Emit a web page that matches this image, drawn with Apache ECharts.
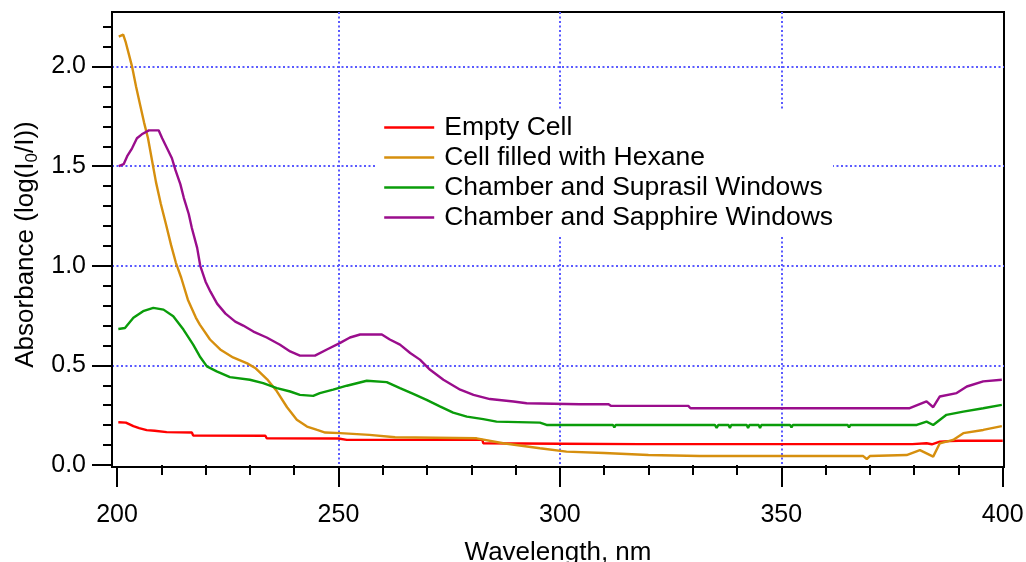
<!DOCTYPE html>
<html>
<head>
<meta charset="utf-8">
<title>Absorbance spectra</title>
<style>
  html, body { margin: 0; padding: 0; background: #fff; }
  #chart { width: 1026px; height: 562px; }
</style>
</head>
<body>
<div id="chart"></div>
<script src="https://cdn.jsdelivr.net/npm/echarts@6/dist/echarts.min.js"></script>
<script>
// axis ticks
var xMajorTicks = [200, 250, 300, 350, 400];
var xMinorTicks = [210, 220, 230, 240, 260, 270, 280, 290, 310, 320, 330, 340, 360, 370, 380, 390];
var xGridLines = [250, 300, 350];
var yMajorTicks = [0, 0.5, 1.0, 1.5, 2.0];
var yMinorTicks = [0.1, 0.2, 0.3, 0.4, 0.6, 0.7, 0.8, 0.9, 1.1, 1.2, 1.3, 1.4, 1.6, 1.7, 1.8, 1.9, 2.1, 2.2];
var yGridLines = [0.5, 1.0, 1.5, 2.0];

var seriesNames = ['Empty Cell', 'Cell filled with Hexane', 'Chamber and Suprasil Windows', 'Chamber and Sapphire Windows'];
var seriesColors = ['#ff0000', '#d68f0e', '#0a9c0a', '#9a0d8c'];

// Empty Cell
var emptyWl  = [200.3, 202.0, 202.3, 203.7, 205.0, 206.7, 208.5, 211.2, 216.9, 217.2, 233.5, 233.8, 250.0, 251.9, 282.5, 282.7,
                300.0, 318.0, 318.3, 318.6, 327.0, 327.3, 327.6, 335.0, 335.3, 335.6, 341.0, 341.3, 341.6, 352.0, 352.3, 352.6,
                362.0, 362.3, 362.6, 379.6, 382.8, 384.0, 385.8, 388.0, 390.0, 400.0];
var emptyAbs = [0.215, 0.213, 0.205, 0.195, 0.185, 0.175, 0.172, 0.165, 0.163, 0.148, 0.147, 0.134, 0.133, 0.126, 0.126, 0.109,
                0.107, 0.105, 0.098, 0.105, 0.105, 0.098, 0.105, 0.105, 0.112, 0.105, 0.105, 0.098, 0.105, 0.105, 0.112, 0.105,
                0.105, 0.112, 0.105, 0.105, 0.109, 0.104, 0.117, 0.12, 0.122, 0.122];

// Cell filled with Hexane
var hexaneWl  = [200.4, 201.4, 202.0, 202.7, 203.4, 204.3, 205.2, 206.1, 207.0, 207.9, 208.8, 209.9, 211.1, 212.2, 213.3, 214.5,
                 216.0, 217.8, 218.7, 221.0, 223.3, 226.2, 229.4, 231.2, 233.9, 236.1, 238.4, 240.6, 242.9, 245.2, 247.0, 250.4,
                 257.0, 262.8, 281.2, 287.2, 295.5, 301.5, 310.0, 320.0, 331.6, 350.0, 368.5, 369.3, 370.0, 378.3, 381.3, 384.3,
                 385.8, 388.8, 391.1, 395.6, 399.8];
var hexaneAbs = [2.15, 2.16, 2.12, 2.06, 2.00, 1.90, 1.81, 1.72, 1.64, 1.53, 1.42, 1.31, 1.205, 1.105, 1.015, 0.94,
                 0.83, 0.74, 0.705, 0.63, 0.58, 0.54, 0.51, 0.487, 0.43, 0.37, 0.29, 0.227, 0.193, 0.176, 0.163, 0.16,
                 0.151, 0.139, 0.134, 0.109, 0.084, 0.067, 0.06, 0.05, 0.045, 0.045, 0.045, 0.03, 0.045, 0.05, 0.075, 0.042,
                 0.109, 0.126, 0.16, 0.176, 0.195];

// Chamber and Suprasil Windows
var suprasilWl  = [200.3, 201.8, 203.7, 205.9, 208.2, 210.5, 212.7, 215.0, 217.2, 218.7, 220.3, 222.5, 225.5, 230.0, 233.0, 236.1,
                   239.1, 241.3, 244.3, 245.8, 248.8, 251.9, 256.4, 260.9, 263.9, 266.9, 269.9, 272.9, 275.9, 279.0, 282.7, 285.7,
                   295.5, 297.0, 312.0, 312.3, 312.6, 335.0, 335.4, 335.8, 338.1, 338.4, 338.7, 342.2, 342.5, 342.8, 344.9, 345.2,
                   345.5, 352.0, 352.3, 352.6, 365.0, 365.3, 365.6, 380.6, 382.8, 384.3, 387.3, 391.1, 395.6, 399.8];
var suprasilAbs = [0.683, 0.688, 0.739, 0.772, 0.789, 0.78, 0.747, 0.68, 0.604, 0.545, 0.495, 0.47, 0.441, 0.428, 0.411, 0.386,
                   0.369, 0.352, 0.347, 0.361, 0.378, 0.398, 0.423, 0.416, 0.386, 0.357, 0.327, 0.294, 0.263, 0.243, 0.23, 0.218,
                   0.213, 0.201, 0.201, 0.188, 0.201, 0.201, 0.186, 0.201, 0.201, 0.186, 0.201, 0.201, 0.186, 0.201, 0.201, 0.186,
                   0.201, 0.201, 0.188, 0.201, 0.201, 0.188, 0.201, 0.201, 0.218, 0.201, 0.252, 0.268, 0.285, 0.302];

// Chamber and Sapphire Windows
var sapphireWl  = [200.4, 201.5, 202.3, 203.4, 204.5, 205.6, 207.2, 209.4, 210.2, 211.3, 212.4, 213.2, 214.3, 215.1, 216.2, 216.9,
                   218.1, 218.8, 220.0, 221.1, 222.6, 224.5, 226.7, 228.5, 230.8, 233.8, 236.8, 239.1, 241.3, 244.7, 247.4, 250.4,
                   252.6, 254.9, 259.8, 261.6, 263.9, 266.2, 268.4, 270.7, 273.7, 277.5, 280.5, 284.2, 289.5, 292.5, 304.5, 311.0,
                   311.5, 329.0, 329.5, 379.0, 382.8, 384.3, 385.8, 389.6, 391.9, 395.6, 399.8];
var sapphireAbs = [1.50, 1.51, 1.55, 1.59, 1.64, 1.66, 1.68, 1.68, 1.64, 1.59, 1.54, 1.48, 1.41, 1.34, 1.26, 1.19,
                   1.09, 1.00, 0.92, 0.87, 0.81, 0.76, 0.72, 0.70, 0.67, 0.64, 0.604, 0.57, 0.549, 0.549, 0.58, 0.613,
                   0.64, 0.655, 0.655, 0.63, 0.604, 0.562, 0.529, 0.478, 0.428, 0.378, 0.352, 0.331, 0.319, 0.31, 0.305, 0.305,
                   0.297, 0.297, 0.285, 0.285, 0.319, 0.29, 0.344, 0.361, 0.394, 0.42, 0.428];

var wlLists = [emptyWl, hexaneWl, suprasilWl, sapphireWl];
var absLists = [emptyAbs, hexaneAbs, suprasilAbs, sapphireAbs];

var font = 'Liberation Sans, Arial, sans-serif';
var gridColor = '#5a5aff';

function zip(xs, ys) {
    var out = [];
    for (var i = 0; i < xs.length; i++) out.push([xs[i], ys[i]]);
    return out;
}

// frame is a bit wider than the 200..400 / 0..2 tick range
var xMin = 198.87, xMax = 400.29;
var yMin = -0.01, yMax = 2.274;

function xAxisBase() {
    return {
        type: 'value', min: xMin, max: xMax, position: 'bottom',
        axisLine: { show: false },
        axisTick: { show: false },
        axisLabel: { show: false },
        splitLine: { show: false }
    };
}
function yAxisBase() {
    return {
        type: 'value', min: yMin, max: yMax, position: 'left',
        axisLine: { show: false },
        axisTick: { show: false },
        axisLabel: { show: false },
        splitLine: { show: false }
    };
}

var xMajor = xAxisBase();
xMajor.axisLine = { show: true, onZero: false, lineStyle: { color: '#000', width: 2 } };
xMajor.axisTick = { show: true, inside: false, length: 20, customValues: xMajorTicks, lineStyle: { color: '#000', width: 2 } };
xMajor.axisLabel = { show: true, customValues: xMajorTicks, margin: 36, fontSize: 25, fontFamily: font, color: '#000' };
xMajor.name = 'Wavelength, nm';
xMajor.nameLocation = 'middle';
xMajor.nameGap = 73;
xMajor.nameTextStyle = { fontSize: 26, fontFamily: font, color: '#000' };

var xMinor = xAxisBase();
xMinor.axisTick = { show: true, inside: false, length: 10, customValues: xMinorTicks, lineStyle: { color: '#000', width: 2 } };

var xGrid = xAxisBase();
xGrid.axisTick = { show: false, customValues: xGridLines };
xGrid.splitLine = { show: true, lineStyle: { color: gridColor, width: 2, type: [2, 2.5] } };

var yMajor = yAxisBase();
yMajor.axisLine = { show: true, onZero: false, lineStyle: { color: '#000', width: 2 } };
yMajor.axisTick = { show: true, inside: false, length: 20, customValues: yMajorTicks, lineStyle: { color: '#000', width: 2 } };
yMajor.axisLabel = {
    show: true, customValues: yMajorTicks, margin: 26, fontSize: 25, fontFamily: font, color: '#000',
    formatter: function (v) { return v.toFixed(1); }
};
yMajor.name = '{t|Absorbance (log(I}{s|0}{t|/I))}';
yMajor.nameLocation = 'middle';
yMajor.nameGap = 69;
yMajor.nameTextStyle = {
    padding: [0, 10, 0, 0],
    rich: {
        t: { fontSize: 26, fontFamily: font, color: '#000', lineHeight: 30 },
        s: { fontSize: 17, fontFamily: font, color: '#000', lineHeight: 17, verticalAlign: 'bottom' }
    }
};

var yMinor = yAxisBase();
yMinor.axisTick = { show: true, inside: false, length: 9, customValues: yMinorTicks, lineStyle: { color: '#000', width: 2 } };

var yGrid = yAxisBase();
yGrid.axisTick = { show: false, customValues: yGridLines };
yGrid.splitLine = { show: true, lineStyle: { color: gridColor, width: 2, type: [2, 2.5] } };

var series = [];
for (var i = 0; i < seriesNames.length; i++) {
    series.push({
        name: seriesNames[i],
        type: 'line',
        xAxisIndex: 0,
        yAxisIndex: 0,
        symbol: 'none',
        color: seriesColors[i],
        lineStyle: { width: 2.4, color: seriesColors[i] },
        data: zip(wlLists[i], absLists[i])
    });
}

var chart = echarts.init(document.getElementById('chart'), null, { renderer: 'canvas' });
chart.setOption({
    animation: false,
    backgroundColor: '#fff',
    grid: {
        left: 112, top: 12, width: 892, height: 455,
        outerBoundsMode: 'none',
        containLabel: false,
        show: true, borderColor: '#000', borderWidth: 2, backgroundColor: 'transparent'
    },
    legend: {
        data: seriesNames,
        orient: 'vertical',
        left: 377,
        top: 110,
        padding: [4, 0, 5, 6],
        itemWidth: 50,
        itemHeight: 14,
        itemGap: 3,
        backgroundColor: '#fff',
        itemStyle: { opacity: 0 },
        lineStyle: { width: 2.4 },
        textStyle: { fontSize: 26.5, fontFamily: font, color: '#000', padding: [0, 0, 0, 5] }
    },
    xAxis: [xMajor, xMinor, xGrid],
    yAxis: [yMajor, yMinor, yGrid],
    series: series
});
</script>
</body>
</html>
